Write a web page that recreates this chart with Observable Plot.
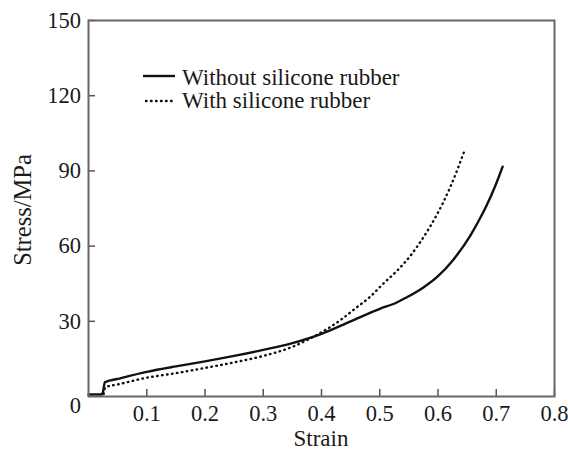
<!DOCTYPE html>
<html>
<head>
<meta charset="utf-8">
<script src="https://cdn.jsdelivr.net/npm/d3@7"></script>
<script src="https://cdn.jsdelivr.net/npm/@observablehq/plot@0.6"></script>
<style>
  html, body { margin: 0; padding: 0; background: #fff; }
  #wrap { position: relative; width: 568px; height: 454px; font-family: "Liberation Serif", "Times New Roman", serif; color: #1a1a1a; }
  .ttl { position: absolute; white-space: nowrap; line-height: 1; }
  #legend { position: absolute; left: 0; top: 0; pointer-events: none; }
</style>
</head>
<body>
<div id="wrap"></div>
<script>
// Series: without silicone rubber (solid)
const strainWithout = [0, 0.022, 0.025, 0.028, 0.05, 0.1, 0.15, 0.2, 0.25, 0.3, 0.35, 0.4, 0.45, 0.5, 0.53, 0.535, 0.545, 0.575, 0.6, 0.626, 0.655, 0.672, 0.683, 0.7, 0.711];
const stressWithout = [0.8, 0.8, 2, 5.7, 7, 9.8, 12, 14, 16.2, 18.6, 21.3, 25, 30, 35, 37.6, 38.2, 39.4, 43.5, 48, 54.5, 64, 71, 76, 85, 91.7];
// Series: with silicone rubber (dotted)
const strainWith = [0.026, 0.029, 0.05, 0.1, 0.15, 0.2, 0.25, 0.3, 0.35, 0.39, 0.432, 0.46, 0.483, 0.506, 0.529, 0.552, 0.575, 0.598, 0.621, 0.646];
const stressWith = [1, 3.7, 4.8, 7.5, 9.3, 11.4, 13.6, 16.2, 19.8, 24.3, 30.4, 35.5, 39.7, 45, 50, 56, 63.5, 72.5, 83.5, 98.4];

const xTicks = [0.1, 0.2, 0.3, 0.4, 0.5, 0.6, 0.7, 0.8];
const yTicks = [30, 60, 90, 120, 150];
const yZeroTick = [0];
const seriesNames = ["Without silicone rubber", "With silicone rubber"];
const xTitle = "Strain";
const yTitle = "Stress/MPa";

const dataWithout = strainWithout.map((s, i) => ({strain: s, stress: stressWithout[i]}));
const dataWith = strainWith.map((s, i) => ({strain: s, stress: stressWith[i]}));

const font = '"Liberation Serif", "Times New Roman", serif';
const ink = "#1a1a1a";
const dots = "0.6,4.4";

const chart = Plot.plot({
  width: 568,
  height: 454,
  marginLeft: 88,
  marginRight: 14,
  marginTop: 20,
  marginBottom: 58,
  style: {fontFamily: font, fontSize: "22.5px", color: ink, background: "#fff"},
  x: {domain: [0, 0.8]},
  y: {domain: [0, 150]},
  marks: [
    Plot.axisX({ticks: xTicks, tickSize: -7, tickPadding: 15.5, tickFormat: d3.format(".1f"), label: null, stroke: "#555", strokeWidth: 1.5, fill: ink}),
    Plot.axisY({ticks: yTicks, tickSize: -7, tickPadding: 14.5, label: null, stroke: "#555", strokeWidth: 1.5, fill: ink}),
    Plot.axisY({ticks: yZeroTick, tickSize: 0, tickPadding: 7.5, dy: 9, label: null, fill: ink}),
    Plot.line(dataWithout, {x: "strain", y: "stress", stroke: "#111", strokeWidth: 2.4, curve: "monotone-x"}),
    Plot.line(dataWith, {x: "strain", y: "stress", stroke: "#111", strokeWidth: 2.4, strokeDasharray: dots, strokeLinecap: "round", curve: "monotone-x"}),
    Plot.frame({stroke: "#666", strokeWidth: 2})
  ]
});

const wrap = document.getElementById("wrap");
wrap.appendChild(chart);

// axis titles
const xt = document.createElement("div");
xt.className = "ttl";
xt.textContent = xTitle;
xt.style.fontSize = "23px";
xt.style.left = "321px"; xt.style.top = "427px"; xt.style.transform = "translateX(-50%)";
wrap.appendChild(xt);

const yt = document.createElement("div");
yt.className = "ttl";
yt.textContent = yTitle;
yt.style.fontSize = "24.5px";
yt.style.left = "23px"; yt.style.top = "210px";
yt.style.transform = "translate(-50%, -50%) rotate(-90deg)";
wrap.appendChild(yt);

// legend
const ns = "http://www.w3.org/2000/svg";
const lg = document.createElementNS(ns, "svg");
lg.setAttribute("id", "legend");
lg.setAttribute("width", 568); lg.setAttribute("height", 454);
const rows = [
  {name: seriesNames[0], dash: null, w: 2.4, y: 76, base: 85, x1: 143},
  {name: seriesNames[1], dash: dots, w: 2.4, y: 101, base: 108.3, x1: 146}
];
rows.forEach(r => {
  const l = document.createElementNS(ns, "line");
  l.setAttribute("x1", r.x1); l.setAttribute("x2", 175);
  l.setAttribute("y1", r.y); l.setAttribute("y2", r.y);
  l.setAttribute("stroke", "#111"); l.setAttribute("stroke-width", r.w);
  if (r.dash) { l.setAttribute("stroke-dasharray", r.dash); l.setAttribute("stroke-linecap", "round"); }
  lg.appendChild(l);
  const t = document.createElementNS(ns, "text");
  t.setAttribute("x", 182); t.setAttribute("y", r.base);
  t.setAttribute("font-family", font); t.setAttribute("font-size", 23);
  t.setAttribute("fill", ink);
  t.textContent = r.name;
  lg.appendChild(t);
});
wrap.appendChild(lg);
</script>
</body>
</html>
